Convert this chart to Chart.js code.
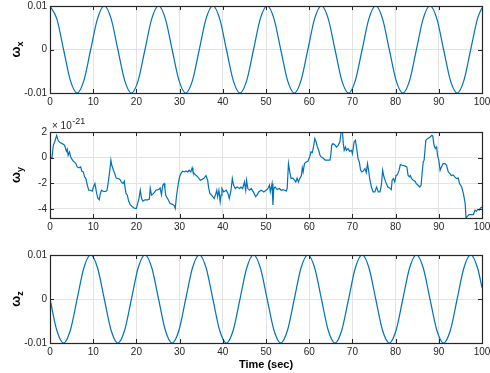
<!DOCTYPE html>
<html>
<head>
<meta charset="utf-8">
<script src="https://cdn.jsdelivr.net/npm/chart.js@4.4.1/dist/chart.umd.min.js"></script>
<style>
  html, body { margin: 0; padding: 0; background: #fff; }
  #wrap { position: relative; width: 490px; height: 373px; overflow: hidden; }
  #wrap canvas { position: absolute; left: 0; }
</style>
</head>
<body>
<div id="wrap">
  <canvas id="cx" width="490" height="118" style="top:0px"></canvas>
  <canvas id="cy" width="490" height="125" style="top:118px"></canvas>
  <canvas id="cz" width="490" height="130" style="top:243px"></canvas>
</div>
<script>
// time axis ticks (sec)
const xTicks = [0, 10, 20, 30, 40, 50, 60, 70, 80, 90, 100];
const wTicks = [-0.01, 0, 0.01];
const wyTicks = [-4, -2, 0, 2];

// sample times for wx / wz
const tW = [0, 1.57, 3.14, 4.71, 6.28, 7.85, 9.42, 11.0, 12.57, 14.14, 15.71, 17.28, 18.85, 20.42, 21.99, 23.56,
  25.13, 26.7, 28.27, 29.85, 31.42, 32.99, 34.56, 36.13, 37.7, 39.27, 40.84, 42.41, 43.98, 45.55, 47.12, 48.69,
  50.27, 51.84, 53.41, 54.98, 56.55, 58.12, 59.69, 61.26, 62.83, 64.4, 65.97, 67.54, 69.12, 70.69, 72.26, 73.83,
  75.4, 76.97, 78.54, 80.11, 81.68, 83.25, 84.82, 86.39, 87.96, 89.54, 91.11, 92.68, 94.25, 95.82, 97.39, 98.96, 100];

const wx = [0.01, 0.0071, 0, -0.0071, -0.01, -0.0071, 0, 0.0071,
  0.01, 0.0071, 0, -0.0071, -0.01, -0.0071, 0, 0.0071,
  0.01, 0.0071, 0, -0.0071, -0.01, -0.0071, 0, 0.0071,
  0.01, 0.0071, 0, -0.0071, -0.01, -0.0071, 0, 0.0071,
  0.01, 0.0071, 0, -0.0071, -0.01, -0.0071, 0, 0.0071,
  0.01, 0.0071, 0, -0.0071, -0.01, -0.0071, 0, 0.0071,
  0.01, 0.0071, 0, -0.0071, -0.01, -0.0071, 0, 0.0071,
  0.01, 0.0071, 0, -0.0071, -0.01, -0.0071, 0, 0.0071,
  0.0096];

const wz = [0, -0.0071, -0.01, -0.0071, 0, 0.0071, 0.01, 0.0071,
  0, -0.0071, -0.01, -0.0071, 0, 0.0071, 0.01, 0.0071,
  0, -0.0071, -0.01, -0.0071, 0, 0.0071, 0.01, 0.0071,
  0, -0.0071, -0.01, -0.0071, 0, 0.0071, 0.01, 0.0071,
  0, -0.0071, -0.01, -0.0071, 0, 0.0071, 0.01, 0.0071,
  0, -0.0071, -0.01, -0.0071, 0, 0.0071, 0.01, 0.0071,
  0, -0.0071, -0.01, -0.0071, 0, 0.0071, 0.01, 0.0071,
  0, -0.0071, -0.01, -0.0071, 0, 0.0071, 0.01, 0.0071,
  0.0026];

// wy samples, values in units of 1e-21
const tY = [0, 0.46, 0.77, 1.08, 1.55, 1.86, 2.3, 2.86, 3.4, 3.6,
  3.8, 4.0, 4.2, 4.5, 4.8, 5.2, 5.6, 6.0, 6.3, 6.7,
  7.1, 7.35, 7.7, 8.0, 8.3, 8.65, 8.97, 9.4, 9.8, 10.05,
  10.4, 10.6, 10.8, 11.1, 11.4, 11.6, 11.9, 12.4, 12.9, 13.2,
  13.5, 13.8, 14.1, 14.3, 14.7, 15.0, 15.3, 15.8, 16.2, 16.5,
  16.9, 17.2, 17.4, 17.6, 17.9, 18.2, 18.6, 19.1, 19.6, 20.0,
  20.3, 20.6, 20.9, 21.2, 21.5, 22.0, 22.6, 23.0, 23.2, 23.5,
  24.0, 24.5, 25.0, 25.3, 25.5, 25.8, 26.1, 26.4, 26.6, 26.8,
  27.4, 27.8, 28.4, 28.8, 29.0, 29.3, 29.7, 30.0, 30.3, 30.7,
  31.1, 31.5, 31.9, 32.2, 32.6, 32.9, 33.1, 33.4, 33.8, 34.2,
  34.8, 35.2, 35.7, 36.1, 36.5, 36.7, 37.0, 37.4, 37.7, 38.0,
  38.4, 38.6, 38.8, 39.1, 39.4, 39.6, 39.8, 40.2, 40.8, 41.2,
  41.5, 41.9, 42.2, 42.5, 42.9, 43.3, 43.9, 44.2, 44.6, 45.0,
  45.3, 45.5, 45.8, 46.2, 46.6, 47.1, 47.6, 48.0, 48.3, 48.9,
  49.5, 50.0, 50.4, 50.8, 51.0, 51.4, 51.6, 51.8, 52.1, 52.6,
  53.1, 53.5, 53.9, 54.3, 54.7, 54.9, 55.2, 55.5, 55.8, 56.2,
  56.6, 56.9, 57.2, 57.5, 57.8, 58.2, 58.4, 58.6, 58.9, 59.3,
  59.7, 60.1, 60.4, 60.7, 61.0, 61.3, 61.6, 61.9, 62.2, 62.5,
  62.8, 63.2, 63.7, 64.3, 64.8, 65.0, 65.2, 65.5, 65.9, 66.3,
  66.7, 67.1, 67.4, 67.7, 67.9, 68.1, 68.4, 68.6, 69.0, 69.4,
  69.8, 70.0, 70.4, 70.7, 71.0, 71.3, 71.6, 71.9, 72.2, 72.5,
  72.9, 73.2, 73.5, 73.8, 74.0, 74.4, 74.8, 75.2, 75.6, 76.0,
  76.4, 76.7, 77.0, 77.3, 77.7, 78.2, 78.6, 79.0, 79.2, 79.5,
  79.8, 80.1, 80.4, 80.8, 81.1, 81.5, 82.1, 82.6, 82.9, 83.2,
  83.4, 83.7, 84.1, 84.5, 84.8, 85.2, 85.6, 85.9, 86.2, 86.4,
  86.6, 87.0, 87.4, 88.0, 88.4, 88.6, 88.9, 89.2, 89.5, 89.7,
  90.0, 90.3, 90.6, 91.0, 91.4, 91.8, 92.2, 92.6, 92.9, 93.3,
  93.7, 94.1, 94.5, 94.8, 95.3, 95.7, 96.1, 96.3, 96.7, 97.0,
  97.5, 98.0, 98.4, 98.7, 99.0, 99.4, 99.6, 100];

const wy = [0, 0, 0.96, 1.22, 1.74, 1.35, 1.17, 1.09, 0.96, 0.7,
  0.49, 0.65, 0.18, 0.44, 0.05, -0.2, -0.34, -0.47, -0.73, -0.8,
  -0.73, -1.06, -1.12, -1.5, -1.64, -2.16, -2.55, -2.55, -2.62, -2.3,
  -2.03, -2.4, -2.8, -3.2, -3.3, -2.9, -2.55, -2.65, -2.65, -2.55,
  -1.9, -1.12, -0.2, -0.6, -0.99, -1.25, -1.6, -1.64, -1.7, -1.9,
  -2.03, -1.84, -2.4, -2.8, -2.94, -3.4, -3.7, -3.84, -3.97, -3.97,
  -3.58, -3.2, -2.55, -3.2, -3.4, -3.3, -3.3, -3.25, -2.4, -2.94,
  -2.8, -2.55, -2.5, -2.45, -2.37, -2.9, -2.16, -2.03, -2.42, -2.94,
  -3.32, -3.58, -3.66, -3.77, -3.97, -2.94, -2.03, -1.5, -1.25, -1.06,
  -1.12, -1.04, -1.12, -0.99, -1.12, -0.8, -1.12, -1.25, -1.38, -1.5,
  -1.77, -1.7, -1.6, -1.4, -1.77, -2.3, -2.8, -2.94, -3.06, -3.2,
  -2.8, -2.55, -3.06, -2.55, -3.45, -2.94, -2.42, -2.68, -2.55, -2.8,
  -3.2, -2.55, -1.64, -2.16, -2.42, -2.3, -2.42, -2.3, -2.42, -1.9,
  -2.55, -1.77, -2.42, -2.55, -2.42, -2.7, -3.06, -2.9, -2.68, -2.55,
  -2.68, -2.55, -2.45, -2.16, -2.68, -2.03, -3.7, -2.42, -2.3, -2.5,
  -2.42, -2.55, -2.5, -2.55, -2.6, -2.42, -0.47, -1.12, -1.64, -1.6,
  -1.77, -1.9, -1.6, -1.9, -1.64, -1.4, -0.8, -1.12, -0.47, -0.34,
  -0.29, 0.05, 0.44, 0.39, 0.83, 1.48, 1.22, 0.83, 0.57, 0.18,
  0.05, -0.03, -0.2, -0.2, -0.2, 0.18, 0.96, 1.09, 1.01, 0.83,
  0.96, 1.22, 2.0, 2.0, 1.09, 0.57, 0.83, 0.57, 0.7, 0.49,
  0.57, 0.31, 1.22, 1.35, 0.7, -0.08, -0.34, -0.99, -1.12, -1.06,
  -0.86, -1.17, -0.47, -1.12, -1.64, -2.3, -2.68, -2.68, -2.3, -2.68,
  -2.68, -2.16, -0.99, -1.5, -1.9, -2.3, -2.37, -2.5, -1.77, -1.64,
  -1.9, -1.4, -1.35, -1.0, -0.55, -0.6, -0.65, -0.73, -1.4, -1.5,
  -1.4, -1.64, -1.77, -1.84, -2.03, -2.16, -2.3, -2.16, -0.99, -0.34,
  -0.2, 1.35, 1.48, 1.61, 1.74, 1.68, 0.96, 0.7, 0.83, 0.18,
  -0.2, -0.99, -0.73, -0.47, -0.47, -0.6, -1.12, -1.25, -1.4, -1.35,
  -1.5, -1.64, -1.6, -2.03, -2.3, -2.81, -3.58, -4.72, -4.55, -4.45,
  -4.45, -4.45, -4.1, -4.2, -4.05, -4.1, -3.95, -3.87];

const FONT = "'Liberation Sans', Arial, Helvetica, sans-serif";
const LINE = '#0072BD';
const AXIS = '#262626';

Chart.defaults.font.family = FONT;
Chart.defaults.font.size = 10;
Chart.defaults.color = AXIS;

// box around the axes, inward tick marks, y label and exponent label
const axesBox = {
  id: 'axesBox',
  afterDatasetsDraw(chart, args, opts) {
    const { ctx, chartArea: { left, right, top, bottom }, scales: { x, y } } = chart;
    ctx.save();
    ctx.strokeStyle = AXIS;
    ctx.lineWidth = 1;
    ctx.beginPath();
    x.ticks.forEach(t => {
      const px = Math.round(x.getPixelForValue(t.value)) + 0.5;
      ctx.moveTo(px, top); ctx.lineTo(px, top + 4);
      ctx.moveTo(px, bottom); ctx.lineTo(px, bottom - 4);
    });
    y.ticks.forEach(t => {
      const py = Math.round(y.getPixelForValue(t.value)) + 0.5;
      ctx.moveTo(left, py); ctx.lineTo(left + 4, py);
      ctx.moveTo(right, py); ctx.lineTo(right - 4, py);
    });
    ctx.stroke();
    ctx.lineWidth = 1.2;
    ctx.strokeRect(left + 0.5, top + 0.5, right - left, bottom - top);

    // rotated omega label with subscript
    ctx.fillStyle = '#000';
    ctx.translate(20, (top + bottom) / 2);
    ctx.rotate(-Math.PI / 2);
    ctx.textBaseline = 'alphabetic';
    ctx.font = 'bold 13px ' + FONT;
    const w1 = ctx.measureText('ω').width;
    ctx.font = 'bold 9px ' + FONT;
    const w2 = ctx.measureText(opts.sub).width;
    const x0 = -(w1 + w2) / 2;
    ctx.font = 'bold 13px ' + FONT;
    ctx.fillText('ω', x0, 0);
    ctx.font = 'bold 9px ' + FONT;
    ctx.fillText(opts.sub, x0 + w1, 3);
    ctx.restore();

    if (opts.exp) {
      ctx.save();
      ctx.fillStyle = AXIS;
      ctx.textBaseline = 'alphabetic';
      ctx.font = '10px ' + FONT;
      ctx.fillText('× 10', left + 2, top - 3.5);
      const w = ctx.measureText('× 10').width;
      ctx.font = '9px ' + FONT;
      ctx.fillText(opts.exp, left + 2.5 + w, top - 8);
      ctx.restore();
    }
  }
};

function makeChart(id, xs, ys, o) {
  return new Chart(document.getElementById(id), {
    type: 'line',
    data: {
      datasets: [{
        data: xs.map((t, i) => ({ x: t, y: ys[i] })),
        borderColor: LINE,
        borderWidth: 1.2,
        pointRadius: 0,
        fill: false,
        tension: o.smooth ? 0.4 : 0,
        cubicInterpolationMode: o.smooth ? 'monotone' : 'default'
      }]
    },
    options: {
      responsive: false,
      animation: false,
      devicePixelRatio: 1,
      layout: { padding: { top: o.padTop, right: 8, bottom: 0, left: 0 } },
      plugins: {
        legend: { display: false },
        tooltip: { enabled: false },
        axesBox: { sub: o.sub, exp: o.exp }
      },
      scales: {
        x: {
          type: 'linear',
          min: 0,
          max: 100,
          afterBuildTicks: s => { s.ticks = xTicks.map(v => ({ value: v })); },
          afterFit: s => { s.height = o.axisH; s.paddingLeft = 0; s.paddingRight = 0; },
          grid: { color: '#e3e3e3', drawTicks: false },
          border: { display: false },
          ticks: { padding: 3, maxRotation: 0, autoSkip: false, callback: v => String(v) },
          title: o.title ? {
            display: true,
            text: o.title,
            font: { size: 11, weight: 'bold' },
            color: '#000',
            padding: { top: 1.4, bottom: 1.4 }
          } : { display: false }
        },
        y: {
          type: 'linear',
          min: o.yMin,
          max: o.yMax,
          afterBuildTicks: s => { s.ticks = o.yTicks.map(v => ({ value: v })); },
          afterFit: s => { s.width = 50; s.paddingTop = 0; s.paddingBottom = 0; },
          grid: { color: '#e3e3e3', drawTicks: false },
          border: { display: false },
          ticks: { padding: 3, autoSkip: false, callback: v => String(v) }
        }
      }
    },
    plugins: [axesBox]
  });
}

makeChart('cx', tW, wx, { padTop: 6, axisH: 25, yMin: -0.01, yMax: 0.01, yTicks: wTicks, sub: 'x', smooth: true });
makeChart('cy', tY, wy, { padTop: 14, axisH: 25, yMin: -4.72, yMax: 2, yTicks: wyTicks, sub: 'y', exp: '-21' });
makeChart('cz', tW, wz, { padTop: 12, axisH: 30, yMin: -0.01, yMax: 0.01, yTicks: wTicks, sub: 'z', smooth: true, title: 'Time (sec)' });
</script>
</body>
</html>
